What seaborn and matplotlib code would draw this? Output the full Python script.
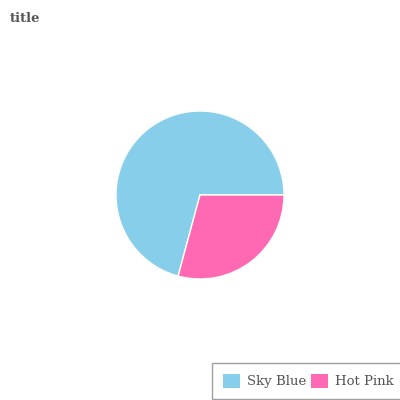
import numpy as np
import pandas as pd
import matplotlib
matplotlib.use('Agg')
import matplotlib.pyplot as plt
import seaborn as sns
from matplotlib.patches import Patch

# Data
labels = ['Sky Blue', 'Hot Pink']
values = [70.8, 29.2]
colors = ['#87CEEB', '#FF69B4']

sns.set_style('white')
plt.rcParams['font.family'] = ['DejaVu Serif']

fig = plt.figure(figsize=(4, 4), dpi=100)
ax = fig.add_axes([0.29, 0.3025, 0.42, 0.42])
palette = sns.color_palette(colors)
ax.pie(values, colors=palette, startangle=0, counterclock=True)
ax.set_xlim(-1, 1)
ax.set_ylim(-1, 1)
ax.set_aspect('equal')

fig.text(0.025, 0.955, 'title', fontsize=9.5, fontweight='bold', color='#555555',
         ha='left', va='center')

handles = [Patch(facecolor=c, edgecolor='none') for c in palette]
leg = fig.legend(handles, labels, loc='lower left', bbox_to_anchor=(212 / 400, 1 / 400),
                 ncol=2, frameon=True, fancybox=False, fontsize=9.5,
                 handlelength=1.3, handleheight=1.3, handletextpad=0.53,
                 columnspacing=0.38, borderpad=0.8, borderaxespad=0,
                 labelcolor='#555555')
leg.get_frame().set_edgecolor('#888888')
leg.get_frame().set_linewidth(1.0)

fig.savefig('out.png', dpi=100)
